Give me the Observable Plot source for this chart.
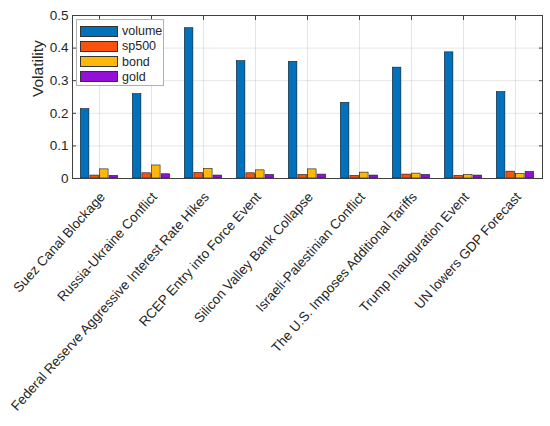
<!DOCTYPE html>
<html>
<head>
<meta charset="utf-8">
<script src="https://cdn.jsdelivr.net/npm/d3@7"></script>
<script src="https://cdn.jsdelivr.net/npm/@observablehq/plot@0.6"></script>
<style>
  body { margin: 0; background: #fff; }
  #wrap { position: relative; width: 550px; height: 426px; font-family: "Liberation Sans", Arial, sans-serif; }
  #legend { position: absolute; left: 76px; top: 19px; width: 88px; height: 67px; background: #fff; border: 1px solid #b0b0b0; box-sizing: border-box; }
  .row { position: absolute; left: 3px; height: 12px; display: flex; align-items: center; font-size: 12.5px; color: #262626; }
  .sw { width: 38px; height: 11px; border: 1px solid #333; box-sizing: border-box; margin-right: 4px; }
</style>
</head>
<body>
<div id="wrap"></div>
<script>
const events = [
  "Suez Canal Blockage",
  "Russia-Ukraine Conflict",
  "Federal Reserve Aggressive Interest Rate Hikes",
  "RCEP Entry into Force Event",
  "Silicon Valley Bank Collapse",
  "Israeli-Palestinian Conflict",
  "The U.S. Imposes Additional Tariffs",
  "Trump Inauguration Event",
  "UN lowers GDP Forecast"
];
const seriesNames = ["volume", "sp500", "bond", "gold"];
const seriesColors = ["#0072BD", "#F8520E", "#FFB80A", "#9410D8"];
const volume = [0.213, 0.259, 0.461, 0.360, 0.358, 0.232, 0.340, 0.387, 0.265];
const sp500  = [0.009, 0.016, 0.017, 0.016, 0.011, 0.008, 0.012, 0.008, 0.021];
const bond   = [0.028, 0.040, 0.029, 0.025, 0.028, 0.018, 0.015, 0.011, 0.014];
const gold   = [0.008, 0.013, 0.009, 0.011, 0.012, 0.009, 0.011, 0.009, 0.020];
const yTicks = [0, 0.1, 0.2, 0.3, 0.4, 0.5];
const yLabel = "Volatility";

const rows = events.map((e, i) => ({event: e, volume: volume[i], sp500: sp500[i], bond: bond[i], gold: gold[i]}));

const W = 550, H = 426, mL = 72, mR = 8, mT = 15, mB = 248;
const band = (W - mL - mR) / events.length;
const step = 9.6, barW = 8.8;
const axisColor = "#404040";

const barMarks = seriesNames.map((s, i) => Plot.barY(rows, {
  x: "event",
  y: s,
  fill: seriesColors[i],
  stroke: "#1a1a1a",
  strokeWidth: 0.6,
  dx: (i - 1.5) * step,
  insetLeft: (band - barW) / 2,
  insetRight: (band - barW) / 2
}));

const chart = Plot.plot({
  width: W, height: H,
  marginLeft: mL, marginRight: mR, marginTop: mT, marginBottom: mB,
  style: {fontFamily: "'Liberation Sans', Arial, sans-serif", color: "#262626", background: "#fff"},
  x: {domain: events, padding: 0, label: null},
  y: {domain: [0, 0.5], label: null},
  marks: [
    Plot.gridY(yTicks, {stroke: "#000", strokeOpacity: 0.1}),
    Plot.gridX(events, {stroke: "#000", strokeOpacity: 0.1}),
    ...barMarks,
    Plot.frame({stroke: axisColor, strokeWidth: 1}),
    Plot.axisY(yTicks, {anchor: "left", tickSize: -4, text: null, stroke: axisColor}),
    Plot.axisY(yTicks, {anchor: "right", tickSize: -4, text: null, stroke: axisColor}),
    Plot.axisY(yTicks, {anchor: "left", tickSize: 0, tickPadding: 4, fontSize: 13.5, fill: "#262626",
      tickFormat: d => d === 0 ? "0" : d.toFixed(1), label: null}),
    Plot.axisX(events, {anchor: "bottom", tickSize: -4, text: null, stroke: axisColor}),
    Plot.axisX(events, {anchor: "top", tickSize: -4, text: null, stroke: axisColor}),
    Plot.axisX(events, {anchor: "bottom", tickSize: 0, tickPadding: 16, tickRotate: -48, dx: 3,
      fontSize: 13.5, fill: "#262626", label: null}),
    Plot.text([yLabel], {frameAnchor: "left", dx: -34, rotate: -90, fontSize: 15.5, fill: "#262626"})
  ]
});

const wrap = document.getElementById("wrap");
wrap.appendChild(chart);

const legend = document.createElement("div");
legend.id = "legend";
seriesNames.forEach((s, i) => {
  const r = document.createElement("div");
  r.className = "row";
  r.style.top = (5 + i * 15.3) + "px";
  const sw = document.createElement("div");
  sw.className = "sw";
  sw.style.background = seriesColors[i];
  r.appendChild(sw);
  const t = document.createElement("span");
  t.textContent = s;
  r.appendChild(t);
  legend.appendChild(r);
});
wrap.appendChild(legend);
</script>
</body>
</html>
